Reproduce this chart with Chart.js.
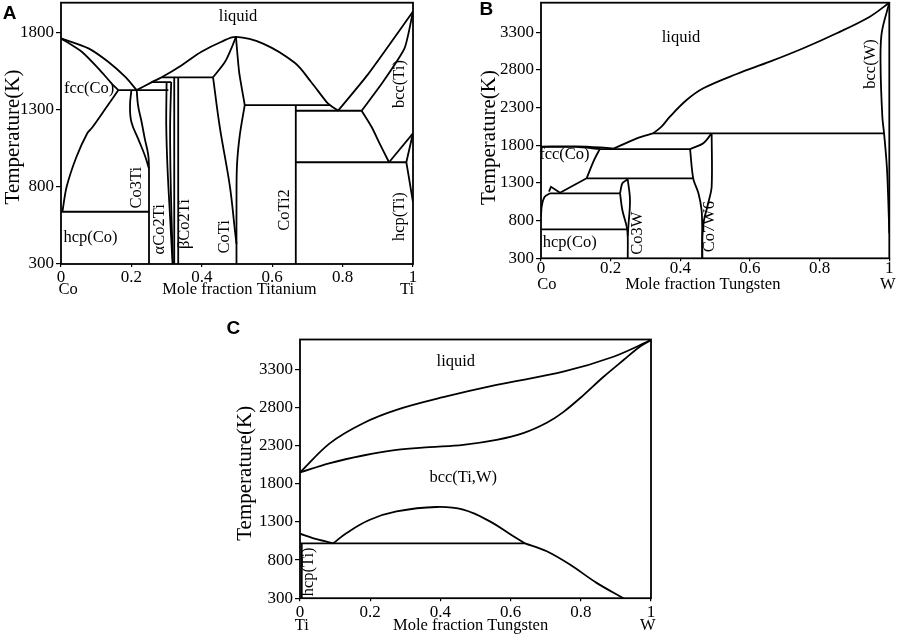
<!DOCTYPE html>
<html><head><meta charset="utf-8">
<script src="https://cdn.jsdelivr.net/npm/chart.js@4/dist/chart.umd.min.js"></script>
<style>
html,body{margin:0;padding:0;background:#fff;width:899px;height:639px;overflow:hidden;position:relative}
canvas{position:absolute;display:block}
</style></head><body>
<canvas id="cA" width="440" height="300" style="left:0;top:0;width:440px;height:300px"></canvas>
<canvas id="cB" width="429" height="300" style="left:470px;top:0;width:429px;height:300px"></canvas>
<canvas id="cC" width="455" height="329" style="left:215px;top:310px;width:455px;height:329px"></canvas>
<script>
// ---------- tick labels ----------
const xTicks = [0, 0.2, 0.4, 0.6, 0.8, 1];
const A_yTicks = [300, 800, 1300, 1800];
const BC_yTicks = [300, 800, 1300, 1800, 2300, 2800, 3300];

// ---------- Panel A: Co-Ti  [mole fraction Ti, T(K)] ----------
const A_liqCo = [[0,1764],[0.078,1699],[0.134,1612],[0.182,1515],[0.215,1428]];
const A_solCo = [[0,1764],[0.059,1677],[0.106,1569],[0.148,1461],[0.163,1428]];
const A_fccHcp = [[0.163,1428],[0.13,1320],[0.087,1180],[0.075,1150],[0.044,996],[0.016,801],[0.004,639]];
const A_hcpCo = [[0,639],[0.25,639]];
const A_eut1428 = [[0.163,1428],[0.305,1428]];
const A_co3TiL = [[0.2,1428],[0.196,1327],[0.2,1221],[0.219,1113],[0.238,1005],[0.25,918]];
const A_co3TiR = [[0.215,1428],[0.219,1327],[0.229,1221],[0.238,1113],[0.248,1005],[0.25,918]];
const A_co3Ti = [[0.25,918],[0.25,300]];
const A_liqDome = [[0.215,1428],[0.257,1478],[0.286,1511],[0.343,1590],[0.399,1677],[0.456,1742],[0.497,1773],[0.574,1730],[0.664,1605],[0.71,1482],[0.754,1352],[0.764,1331],[0.787,1294]];
const A_periA = [[0.257,1480],[0.313,1480]];
const A_periB = [[0.286,1511],[0.432,1511]];
const A_alphaL = [[0.300,1480],[0.299,1200],[0.303,900],[0.310,600],[0.317,300]];
const A_alphaR = [[0.313,1480],[0.310,1200],[0.311,900],[0.314,600],[0.318,300]];
const A_betaL = [[0.3217,1511],[0.3217,300]];
const A_betaR = [[0.333,1511],[0.333,300]];
const A_coTiTopL = [[0.497,1773],[0.484,1699],[0.466,1612],[0.432,1511]];
const A_coTiL = [[0.432,1511],[0.451,1190],[0.48,801],[0.494,520],[0.4986,430]];
const A_coTiTopR = [[0.497,1773],[0.506,1547],[0.522,1331]];
const A_coTiR = [[0.522,1331],[0.508,1137],[0.500,942],[0.4986,700],[0.4986,300]];
const A_peri1331 = [[0.522,1331],[0.764,1331]];
const A_coTi2 = [[0.667,1331],[0.667,300]];
const A_eut1294 = [[0.667,1294],[0.854,1294]];
const A_liqTi = [[0.787,1294],[0.872,1530],[1,1938]];
const A_solTi = [[0.854,1294],[0.915,1482],[0.976,1700],[1,1938]];
const A_bccHcp = [[0.854,1294],[0.882,1190],[0.905,1083],[0.932,960]];
const A_eut960 = [[0.667,960],[0.981,960]];
const A_trans1 = [[0.932,960],[1,1148]];
const A_trans2 = [[0.981,960],[1,1148]];
const A_hcpTi = [[0.981,960],[0.987,880],[0.995,770],[1,700]];
const A_labels = [['liquid',0.503,1893,0],['fcc(Co)',0.080,1424,0],['hcp(Co)',0.084,456,0],['Co3Ti',0.222,795,1],['αCo2Ti',0.286,525,1],['βCo2Ti',0.357,559,1],['CoTi',0.472,477,1],['CoTi2',0.641,650,1],['bcc(Ti)',0.969,1467,1],['hcp(Ti)',0.967,607,1]];

// ---------- Panel B: Co-W  [mole fraction W, T(K)] ----------
const B_liqW = [[0.322,1959],[0.346,2047],[0.37,2180],[0.418,2401],[0.466,2557],[0.562,2747],[0.657,2910],[0.753,3088],[0.849,3287],[0.944,3507],[1,3693]];
const B_liqCo2 = [[0.208,1755],[0.275,1893],[0.322,1959]];
const B_liqCo = [[0,1783],[0.1,1786],[0.17,1772],[0.208,1755]];
const B_solCo = [[0,1779],[0.1,1778],[0.169,1752]];
const B_peri1750 = [[0.169,1750],[0.428,1750]];
const B_co7TopL = [[0.428,1750],[0.466,1827],[0.49,1959]];
const B_peri1959 = [[0.322,1959],[0.985,1959]];
const B_bccW = [[1,3693],[0.978,3287],[0.975,2843],[0.98,2180],[0.985,1959],[0.993,1516],[0.997,1074],[1,631]];
const B_co7L = [[0.428,1750],[0.437,1362],[0.452,1163],[0.461,941],[0.463,676],[0.463,300]];
const B_co7R = [[0.49,1959],[0.49,1250],[0.48,1030],[0.468,808],[0.463,587],[0.463,300]];
const B_peri1362 = [[0.131,1362],[0.437,1362]];
const B_fccR = [[0.169,1752],[0.152,1600],[0.131,1362]];
const B_fccL = [[0.131,1362],[0.0546,1171],[0.0287,1250],[0.023,1184]];
const B_eut1163 = [[0.0258,1163],[0.227,1163]];
const B_fccLeft = [[0,852],[0.002,985],[0.0096,1110],[0.0258,1163]];
const B_co3TopL = [[0.227,1163],[0.2335,1296],[0.249,1349]];
const B_co3L = [[0.227,1163],[0.2335,941],[0.246,720],[0.249,600],[0.249,300]];
const B_co3R = [[0.249,1349],[0.2555,1074],[0.2508,720],[0.249,600]];
const B_hcpCo = [[0,685],[0.246,685]];
const B_labels = [['liquid',0.402,3198,0],['bcc(W)',0.952,2879,1],['fcc(Co)',0.067,1649,0],['hcp(Co)',0.0824,477,0],['Co3W',0.284,632,1],['Co7W6',0.49,720,1]];

// ---------- Panel C: Ti-W  [mole fraction W, T(K)] ----------
const C_liq = [[0,1948],[0.0855,2333],[0.18,2594],[0.275,2769],[0.408,2935],[0.56,3096],[0.75,3270],[0.893,3466],[1,3684]];
const C_sol = [[0,1948],[0.0855,2071],[0.18,2171],[0.275,2245],[0.37,2280],[0.465,2311],[0.56,2376],[0.636,2464],[0.703,2600],[0.75,2740],[0.807,2960],[0.864,3200],[0.921,3420],[0.969,3600],[1,3684]];
const C_gap = [[0.095,1020],[0.133,1156],[0.199,1329],[0.275,1438],[0.389,1496],[0.465,1460],[0.541,1307],[0.608,1111],[0.641,1020]];
const C_eut = [[0,1020],[0.641,1020]];
const C_hcpBcc = [[0,1146],[0.05,1070],[0.095,1020]];
const C_solvW = [[0.641,1020],[0.703,915],[0.769,741],[0.845,501],[0.921,300]];
const C_hcpTi = [[0.005,1020],[0.005,300]];
const C_labels = [['liquid',0.444,3379,0],['bcc(Ti,W)',0.465,1853,0],['hcp(Ti)',0.030,645,1]];

// ---------- rendering ----------
const SERIF = '"Liberation Serif", "Times New Roman", serif';
Chart.defaults.font.family = SERIF;
Chart.defaults.color = '#000';

function ds(pts, tension) {
  return { data: pts.map(p => ({x: p[0], y: p[1]})), borderColor: '#000', borderWidth: 1.8,
           pointRadius: 0, pointHoverRadius: 0, fill: false, tension: tension || 0 };
}

const decor = {
  id: 'decor',
  afterDraw(chart, args, o) {
    const {ctx, chartArea: a, scales: {x, y}} = chart;
    ctx.save();
    ctx.strokeStyle = '#000'; ctx.lineWidth = 1.8;
    ctx.strokeRect(a.left, a.top, a.right - a.left, a.bottom - a.top);
    ctx.fillStyle = '#000';
    ctx.textAlign = 'center'; ctx.textBaseline = 'middle';
    ctx.font = '16.5px ' + SERIF;
    for (const [t, vx, vy, rot] of o.labels) {
      ctx.save();
      ctx.translate(x.getPixelForValue(vx), y.getPixelForValue(vy));
      if (rot) ctx.rotate(-Math.PI / 2);
      ctx.fillText(t, 0, -2);
      ctx.restore();
    }
    const by = a.bottom + o.rowDy - 2;
    ctx.fillText(o.leftEl, x.getPixelForValue(o.leftX), by);
    ctx.fillText(o.rightEl, x.getPixelForValue(o.rightX), by);
    ctx.fillText(o.xTitle, x.getPixelForValue(o.titleX), by);
    ctx.font = '21px ' + SERIF;
    ctx.save(); ctx.translate(o.yTitlePos[0], o.yTitlePos[1]); ctx.rotate(-Math.PI / 2);
    ctx.fillText('Temperature(K)', 0, 0); ctx.restore();
    ctx.font = 'bold 19px "Liberation Sans", Arial, sans-serif';
    ctx.fillText(o.letter, o.letterPos[0], o.letterPos[1]);
    ctx.restore();
  }
};

function make(id, curves, yTicks, yMax, lay, deco) {
  new Chart(document.getElementById(id), {
    type: 'line',
    data: { datasets: curves.map(c => ds(c[0], c[1])) },
    options: {
      responsive: false, animation: false, devicePixelRatio: 1,
      layout: { padding: { left: 0, top: lay.top, right: lay.right, bottom: 0 } },
      plugins: { legend: { display: false }, tooltip: { enabled: false }, decor: deco },
      scales: {
        x: { type: 'linear', min: 0, max: 1,
             afterBuildTicks: s => { s.ticks = xTicks.map(v => ({value: v})); },
             afterFit: s => { s.height = lay.xh; s.paddingLeft = 0; s.paddingRight = 0; },
             ticks: { autoSkip: false, maxRotation: 0, padding: lay.xpad, font: { size: 17 },
                      callback: v => String(Math.round(v * 10) / 10) },
             grid: { drawOnChartArea: false, drawTicks: true, tickLength: 3, color: '#000', lineWidth: 1.2 },
             border: { display: false } },
        y: { type: 'linear', min: 300, max: yMax,
             afterBuildTicks: s => { s.ticks = yTicks.map(v => ({value: v})); },
             afterFit: s => { s.width = lay.yw; s.paddingTop = 0; s.paddingBottom = 0; },
             ticks: { autoSkip: false, padding: 2, font: { size: 17 }, callback: v => String(v) },
             grid: { drawOnChartArea: false, drawTicks: true, tickLength: 5, color: '#000', lineWidth: 1.2 },
             border: { display: false } }
      }
    },
    plugins: [decor]
  });
}

make('cA', [
  [A_liqCo,0.3],[A_solCo,0.2],[A_fccHcp,0.3],[A_hcpCo,0],[A_eut1428,0],[A_co3TiL,0.4],[A_co3TiR,0.4],[A_co3Ti,0],
  [A_liqDome,0.35],[A_periA,0],[A_periB,0],[A_alphaL,0.3],[A_alphaR,0.3],[A_betaL,0],[A_betaR,0],
  [A_coTiTopL,0.3],[A_coTiL,0.35],[A_coTiTopR,0.2],[A_coTiR,0.35],[A_peri1331,0],[A_coTi2,0],[A_eut1294,0],
  [A_liqTi,0.2],[A_solTi,0.2],[A_bccHcp,0.3],[A_eut960,0],[A_trans1,0],[A_trans2,0],[A_hcpTi,0.3]
], A_yTicks, 1995, {top: 2.7, right: 27, yw: 61, xh: 36, xpad: 0},
{labels: A_labels, rowDy: 28, leftEl: 'Co', leftX: 0.02, rightEl: 'Ti', rightX: 0.983,
 xTitle: 'Mole fraction Titanium', titleX: 0.507, yTitlePos: [13.6, 137], letter: 'A', letterPos: [9.7, 13.3]});

make('cB', [
  [B_liqW,0.35],[B_liqCo2,0.3],[B_liqCo,0.3],[B_solCo,0.3],[B_peri1750,0],[B_co7TopL,0.3],[B_peri1959,0],
  [B_bccW,0.35],[B_co7L,0.3],[B_co7R,0.3],[B_peri1362,0],[B_fccR,0.3],[B_fccL,0],[B_eut1163,0],
  [B_fccLeft,0.35],[B_co3TopL,0.3],[B_co3L,0.35],[B_co3R,0.35],[B_hcpCo,0]
], BC_yTicks, 3693, {top: 2.7, right: 9.7, yw: 71, xh: 41.7, xpad: -2.5},
{labels: B_labels, rowDy: 28.7, leftEl: 'Co', leftX: 0.017, rightEl: 'W', rightX: 0.996,
 xTitle: 'Mole fraction Tungsten', titleX: 0.4645, yTitlePos: [19.3, 137.5], letter: 'B', letterPos: [16.3, 9.7]});

make('cC', [
  [C_liq,0.35],[C_sol,0.35],[C_gap,0.4],[C_eut,0],[C_hcpBcc,0.3],[C_solvW,0.35],[C_hcpTi,0]
], BC_yTicks, 3692, {top: 29.5, right: 19, yw: 85, xh: 40.8, xpad: 1},
{labels: C_labels, rowDy: 29.5, leftEl: 'Ti', leftX: 0.005, rightEl: 'W', rightX: 0.991,
 xTitle: 'Mole fraction Tungsten', titleX: 0.486, yTitlePos: [30.9, 163.3], letter: 'C', letterPos: [18.3, 18.3]});
</script>
</body></html>
